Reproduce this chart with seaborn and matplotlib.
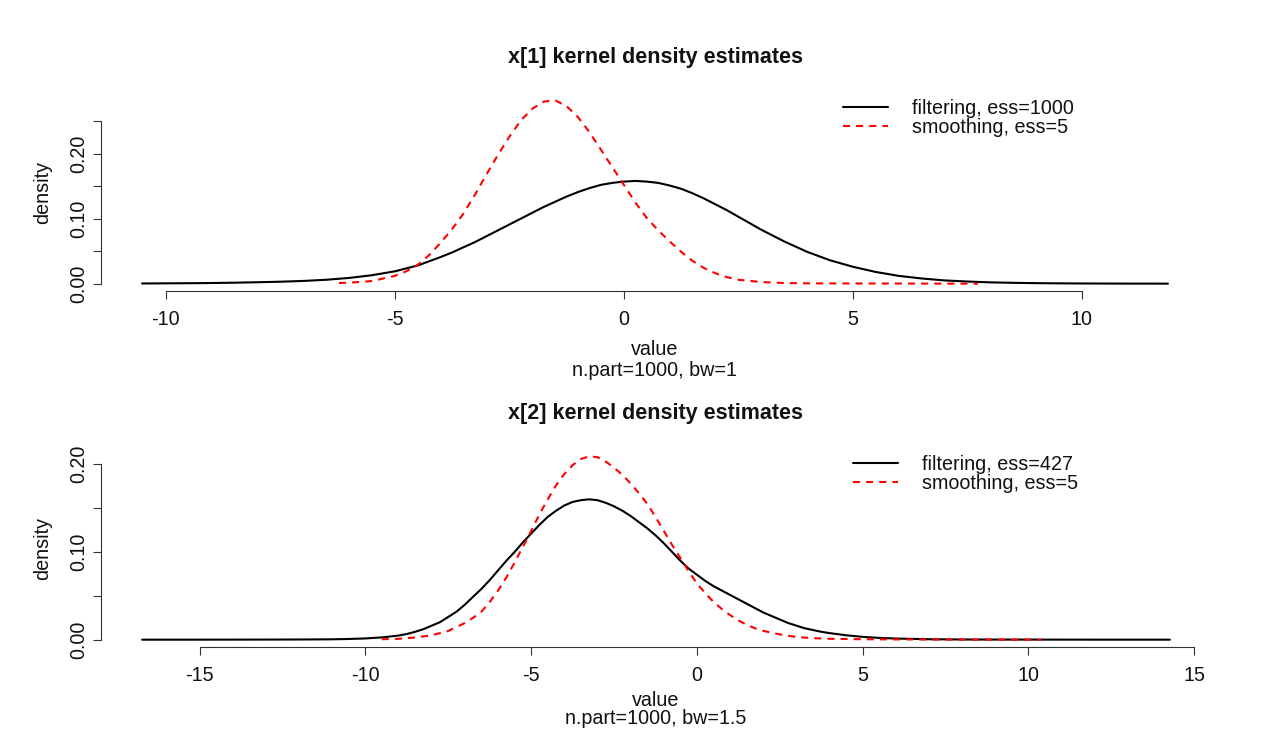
import matplotlib
matplotlib.use("Agg")
import matplotlib.pyplot as plt
import seaborn as sns
import pandas as pd
from matplotlib.lines import Line2D

# ---------------- data ----------------
# panel 1: x[1]
p1_filt_x = [-10.52, -10, -9.5, -9, -8.5, -8, -7.5, -7, -6.5, -6, -5.5, -5, -4.5,
             -4, -3.75, -3.5, -3.25, -3, -2.75, -2.5, -2.25, -2, -1.75, -1.5, -1.25, -1, -0.75,
             -0.5, -0.25, 0, 0.25, 0.5, 0.75, 1, 1.25, 1.5, 1.75, 2, 2.25, 2.5, 2.75, 3, 3.25,
             3.5, 3.75, 4, 4.5, 5, 5.5, 6, 6.5, 7, 7.5, 8, 8.5, 9, 9.5, 10, 10.5, 11, 11.5, 11.88]
p1_filt_y = [0.0003, 0.0005, 0.0007, 0.001, 0.0015, 0.0022, 0.003, 0.0042, 0.006, 0.0088, 0.013,
             0.019, 0.028,
             0.041, 0.048, 0.056, 0.064, 0.073, 0.082, 0.091, 0.100, 0.109, 0.118, 0.126, 0.134,
             0.141, 0.147, 0.152, 0.155, 0.157, 0.158, 0.157, 0.155, 0.151, 0.146, 0.139, 0.131,
             0.122, 0.113, 0.103, 0.093, 0.083, 0.074, 0.065, 0.057, 0.049, 0.036, 0.026, 0.018,
             0.012, 0.008, 0.005, 0.0033, 0.002, 0.0013, 0.0008, 0.0005, 0.0003, 0.0002, 0.0001,
             0.0001, 0.0]
p1_smooth_x = [-6.22, -6, -5.5, -5, -4.75, -4.5, -4.25, -4, -3.75, -3.5, -3.25, -3, -2.75, -2.5,
               -2.25, -2, -1.75, -1.5, -1.25, -1, -0.75, -0.5, -0.25, 0, 0.25, 0.5, 0.75, 1, 1.25,
               1.5, 1.75, 2, 2.25, 2.5, 3, 3.5, 4, 5, 6, 7, 7.73]
p1_smooth_y = [0.001, 0.0015, 0.004, 0.012, 0.019, 0.029, 0.044, 0.063, 0.084, 0.108, 0.137,
               0.168, 0.198, 0.226, 0.251, 0.269, 0.280, 0.282, 0.273, 0.256, 0.233, 0.206, 0.179,
               0.152, 0.125, 0.101, 0.082, 0.065, 0.049, 0.035, 0.024, 0.016, 0.010, 0.006,
               0.0025, 0.001, 0.0005, 0.0003, 0.0002, 0.0001, 0.0]

# panel 2: x[2]
p2_filt_x = [-16.74, -15, -13, -12, -11, -10.5, -10, -9.5, -9, -8.75, -8.5, -8.25,
             -8, -7.75, -7.5, -7.25, -7, -6.75, -6.5, -6.25, -6, -5.75, -5.5, -5.25, -5, -4.75,
             -4.5, -4.25, -4, -3.75, -3.5, -3.25, -3, -2.75, -2.5, -2.25, -2, -1.75, -1.5, -1.25,
             -1, -0.75, -0.5, -0.25, 0, 0.25, 0.5, 0.75, 1, 1.25, 1.5, 1.75, 2, 2.25,
             2.5, 2.75, 3, 3.25, 3.5, 3.75, 4, 4.5, 5, 5.5, 6, 7, 8, 9, 10, 12, 14.27]
p2_filt_y = [0.0, 0.0, 0.0001, 0.0002, 0.0004, 0.0008, 0.0014, 0.0026, 0.0047, 0.0065, 0.009, 0.012,
             0.016, 0.020, 0.026, 0.032, 0.040, 0.049, 0.058, 0.068, 0.079, 0.090, 0.100, 0.111,
             0.121, 0.131, 0.140, 0.147, 0.153, 0.157, 0.159, 0.160, 0.159, 0.156, 0.152, 0.147,
             0.141, 0.134, 0.127, 0.119, 0.110, 0.100, 0.090, 0.081, 0.074, 0.067, 0.061, 0.056,
             0.051, 0.046, 0.041, 0.036, 0.031, 0.027,
             0.023, 0.019, 0.016, 0.013, 0.011, 0.009, 0.0075, 0.005, 0.0032, 0.002, 0.0013,
             0.0005, 0.0002, 0.0001, 0.0001, 0.0, 0.0]
p2_smooth_x = [-9.51, -9, -8.5, -8, -7.5,
               -7, -6.75, -6.5, -6.25, -6, -5.75, -5.5, -5.25, -5, -4.75, -4.5, -4.25, -4, -3.75,
               -3.5, -3.25, -3, -2.75, -2.5, -2.25, -2, -1.75, -1.5, -1.25, -1, -0.75, -0.5, -0.25,
               0, 0.25, 0.5, 0.75, 1, 1.25, 1.5, 1.75, 2,
               2.5, 3, 3.5, 4, 5, 6, 7, 8, 10.4]
p2_smooth_y = [0.0005, 0.001, 0.0025, 0.005, 0.010,
               0.019, 0.025, 0.032, 0.043, 0.056, 0.071, 0.088, 0.106, 0.124, 0.143, 0.160, 0.176,
               0.189, 0.199, 0.206, 0.209, 0.208, 0.203, 0.196, 0.188, 0.178, 0.167, 0.155, 0.140,
               0.124, 0.108, 0.093, 0.078, 0.064, 0.053, 0.043, 0.035, 0.028, 0.022, 0.017, 0.013,
               0.010,
               0.006, 0.003, 0.0018, 0.001, 0.0005, 0.0003, 0.0002, 0.0001, 0.0]

titles = ["x[1] kernel density estimates", "x[2] kernel density estimates"]
subs = ["n.part=1000, bw=1", "n.part=1000, bw=1.5"]
legend_labels = [["filtering, ess=1000", "smoothing, ess=5"],
                 ["filtering, ess=427", "smoothing, ess=5"]]
x_ticks = [[-10, -5, 0, 5, 10], [-15, -10, -5, 0, 5, 10, 15]]
y_ticks = [[0.0, 0.05, 0.10, 0.15, 0.20, 0.25], [0.0, 0.05, 0.10, 0.15, 0.20]]
y_ticklabels = [["0.00", "", "0.10", "", "0.20", ""], ["0.00", "", "0.10", "", "0.20"]]

# ---------------- style ----------------
sns.set_style("white")
plt.rcParams["font.family"] = ["Liberation Sans", "DejaVu Sans"]
FS = 14.2
TFS = 15.5
AXC = "#333333"
TXC = "#111111"
DASH = (0, (3.4, 2.9))

W, H = 1270, 730
fig = plt.figure(figsize=(W / 100, H / 100), dpi=100)

# axes boxes in pixel coords (left, top, right, bottom)
boxes = [(101, 93, 1209, 291), (101, 449, 1211, 647)]
legend_anchor = [(843, 118), (853, 474)]
title_y = [58, 414]
value_y = [350, 700]
sub_y = [370, 719]
dens_y = [192, 548]

panels = [(p1_filt_x, p1_filt_y, p1_smooth_x, p1_smooth_y),
          (p2_filt_x, p2_filt_y, p2_smooth_x, p2_smooth_y)]

for i, (fx, fy, sx, sy) in enumerate(panels):
    l, t, r, b = boxes[i]
    ax = fig.add_axes([l / W, 1 - b / H, (r - l) / W, (b - t) / H])
    df_f = pd.DataFrame({"value": fx, "density": fy})
    df_s = pd.DataFrame({"value": sx, "density": sy})
    sns.lineplot(data=df_f, x="value", y="density", ax=ax, color="black",
                 linewidth=1.5, sort=False, legend=False)
    sns.lineplot(data=df_s, x="value", y="density", ax=ax, color="#FF0000",
                 linewidth=1.5, linestyle=DASH, sort=False, legend=False)

    xmin, xmax = min(fx), max(fx)
    rng = xmax - xmin
    ax.set_xlim(xmin - 0.04 * rng, xmax + 0.04 * rng)
    ymax = max(max(fy), max(sy))
    ax.set_ylim(-0.04 * ymax, 1.04 * ymax)

    ax.set_xticks(x_ticks[i])
    ax.set_xticklabels([str(v) for v in x_ticks[i]])
    ax.set_yticks(y_ticks[i])
    ax.set_yticklabels(y_ticklabels[i])
    ax.set_xlabel("")
    ax.set_ylabel("")

    for s in ["top", "right"]:
        ax.spines[s].set_visible(False)
    for s in ["left", "bottom"]:
        ax.spines[s].set_color(AXC)
        ax.spines[s].set_linewidth(0.8)
    ax.spines["bottom"].set_bounds(x_ticks[i][0], x_ticks[i][-1])
    ax.spines["left"].set_bounds(y_ticks[i][0], y_ticks[i][-1])

    ax.tick_params(axis="both", which="major", bottom=True, left=True,
                   direction="out", length=5.5, width=0.8,
                   color=AXC, labelsize=FS, labelcolor=TXC)
    ax.tick_params(axis="x", pad=8)
    ax.tick_params(axis="y", pad=4, labelrotation=90)
    for lab in ax.get_yticklabels():
        lab.set_va("center")

    handles = [Line2D([], [], color="black", linewidth=1.5),
               Line2D([], [], color="#FF0000", linewidth=1.5, linestyle=DASH)]
    lx, ly = legend_anchor[i]
    fig.legend(handles, legend_labels[i], loc="center left",
               bbox_to_anchor=(lx / W, 1 - ly / H), frameon=False,
               fontsize=FS, handlelength=2.3, handletextpad=1.2,
               labelspacing=0.0, borderpad=0, borderaxespad=0,
               labelcolor=TXC)

    cx = (l + r) / 2 / W
    fig.text(cx, 1 - title_y[i] / H, titles[i], ha="center", va="center",
             fontsize=TFS, fontweight="bold", color=TXC)
    fig.text(cx, 1 - value_y[i] / H, "value", ha="center", va="center",
             fontsize=FS, color=TXC)
    fig.text(cx, 1 - sub_y[i] / H, subs[i], ha="center", va="center",
             fontsize=FS, color=TXC)
    fig.text(43 / W, 1 - dens_y[i] / H, "density", ha="center", va="center",
             rotation=90, fontsize=FS, color=TXC)

fig.savefig("out.png", dpi=100, facecolor="white")
